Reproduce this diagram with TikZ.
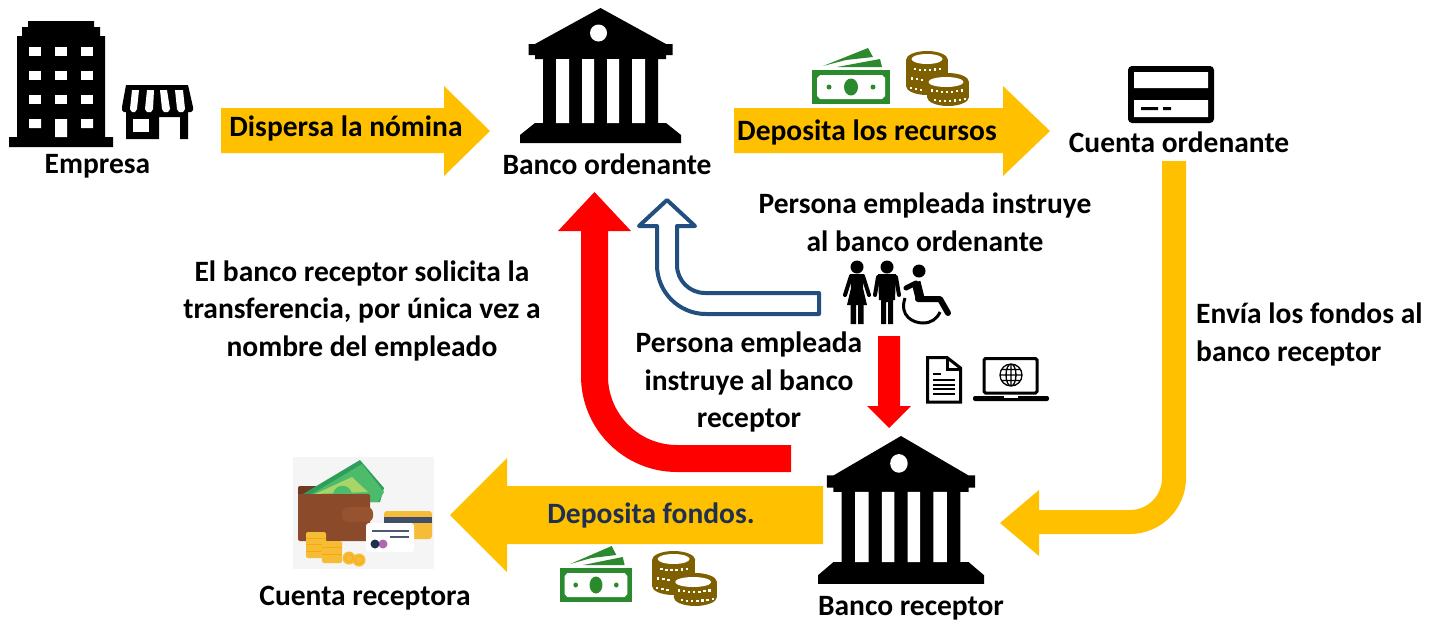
\documentclass[tikz,border=0pt]{standalone}
\usepackage{fontspec}
\setmainfont{Carlito}
\definecolor{gold}{HTML}{FFC000}
\definecolor{rojo}{HTML}{FF0000}
\definecolor{azul}{HTML}{224E80}
\definecolor{verde}{HTML}{2B8A2D}
\definecolor{moneda}{HTML}{7F6000}
\definecolor{tinta}{HTML}{1F2F4F}
\definecolor{cuero}{HTML}{8B4A2A}
\definecolor{cueroO}{HTML}{6E3A20}
\definecolor{cueroC}{HTML}{97532F}
\definecolor{oro}{HTML}{F5BC38}
\definecolor{billO}{HTML}{2E9E5B}
\definecolor{billM}{HTML}{4CBB6B}
\definecolor{billC}{HTML}{A8D468}
\newcommand\coinrow[4]{\foreach \xx in {#4}{\pgfmathsetmacro\yy{#3+3*(1-((\xx-#1)/#2)^2)}\fill[white] (\xx-1.2,\yy-1.1) rectangle (\xx+1.2,\yy+1.1);}}
\tikzset{
  lbl/.style={font=\fontsize{29.5}{37.5}\selectfont\bfseries,align=center,inner sep=0pt,text=black},
  goldblock/.style={fill=gold},
  redblock/.style={fill=rojo},
  blueblock/.style={draw=azul,line width=4pt,line join=round,fill=white},
  bankicon/.pic={
    \fill[black] (0,0) -- (65.5,36) -- (72,36) -- (72,47) -- (65.5,47) -- (65.5,51) -- (57.5,51) -- (57.5,115) -- (65.5,115) -- (80.5,127) -- (80.5,135) -- (-80.5,135) -- (-80.5,127) -- (-65.5,115) -- (-57.5,115) -- (-57.5,51) -- (-65.5,51) -- (-65.5,47) -- (-72,47) -- (-72,36) -- (-65.5,36) -- cycle;
    \fill[white] (-44.5,51) rectangle (-31.5,115) (-18.5,51) rectangle (-6.5,115) (6.5,51) rectangle (18.5,115) (31.5,51) rectangle (44.5,115);
    \fill[white] (-2,25) circle[radius=8.5];
  },
  moneyicon/.pic={
    \fill[verde] (0,22) rectangle (78,56);
    \fill[white] (8,27) -- (70,27) -- (73,30) -- (73,48) -- (70,51) -- (8,51) -- (5,48) -- (5,30) -- cycle;
    \fill[verde] (39,39) ellipse[x radius=7,y radius=8.5];
    \fill[verde] (17,39) circle[radius=2.5] (61,39) circle[radius=2.5];
    \fill[verde] (11,18) -- (56,0) -- (61,9) -- (34,12) -- cycle;
    \fill[verde] (25,19) -- (68,11) -- (70,19) -- cycle;
  },
  coinsicon/.pic={
    \fill[moneda] (21,9) ellipse[x radius=21,y radius=9];
    \fill[moneda] (0,9) rectangle (42,35);
    \fill[moneda] (21,35) ellipse[x radius=21,y radius=9];
    \fill[white] (21,8) ellipse[x radius=15.5,y radius=5];
    \coinrow{21}{21}{16}{9,14,19,24,29,34}
    \coinrow{21}{21}{26}{6,11,16}
    \coinrow{21}{21}{36}{5,10,15}
    \fill[moneda] (42,31) ellipse[x radius=21,y radius=9];
    \fill[moneda] (21,31) rectangle (63,46);
    \fill[moneda] (42,46) ellipse[x radius=21,y radius=9];
    \fill[white] (40,31) ellipse[x radius=17.5,y radius=5];
    \coinrow{41}{21}{38}{26,31,36,41,46,51,56}
    \coinrow{41}{21}{47}{29,34,39,44,49,54,59}
  },
}
\begin{document}
\begin{tikzpicture}[x=1pt,y=-1pt]
\useasboundingbox (0,0) rectangle (1441,622);

% Empresa: building
\fill[black] (28,21) -- (94,21) -- (94,27) -- (100,27) -- (100,36) -- (105,36) -- (105,137) -- (113,137) -- (113,147) -- (9,147) -- (9,137) -- (17,137) -- (17,36) -- (22,36) -- (22,27) -- (28,27) -- cycle;
\foreach \yy in {47,71,95}{\foreach \xx in {29,55,81}{\fill[white] (\xx,\yy) rectangle ++(12,9);}}
\fill[white] (29,119) rectangle (41,128) (55,119) rectangle (67,137) (81,119) rectangle (93,128);
% shop
\fill[black] (126,85) -- (188,85) -- (193,107) -- (193,110) -- (191,112) -- (188,112) -- (188,139) -- (180,139) -- (180,117) -- (159,117) -- (159,139) -- (126,139) -- (126,112) -- (124,112) -- (122,110) -- (122,107) -- cycle;
\fill[white] (133,119) rectangle (149,132);
\fill[white] (132,90) -- (139,90) -- (137,109) -- (135,112) -- (132,112) -- (130,109) -- cycle;
\fill[white] (147,90) -- (154,90) -- (153,109) -- (151,112) -- (147,112) -- (145,109) -- cycle;
\fill[white] (160,90) -- (167,90) -- (170,109) -- (168,112) -- (164,112) -- (162,109) -- cycle;
\fill[white] (175,90) -- (183,90) -- (185,109) -- (183,112) -- (179,112) -- (177,109) -- cycle;

% Banks
\pic (bancoA) at (600.5,8) {bankicon};
\pic[xscale=1.031,yscale=1.096] (bancoB) at (901,436) {bankicon};

% Money and coins
\pic (billeteA) at (812,48) {moneyicon};
\pic (monedaA) at (906,51) {coinsicon};
\pic[xscale=.923] (billeteB) at (560,546) {moneyicon};
\pic[xscale=1.03] (monedaB) at (652,551) {coinsicon};

% Card
\fill[black,rounded corners=4pt] (1128,66) rectangle (1214,123);
\fill[white] (1134,72) rectangle (1208,88) (1134,100) rectangle (1208,117);
\fill[black] (1141,107) rectangle (1158,110) (1163,107) rectangle (1171,110);

% Block arrows
\path[goldblock] (221,108) -- (444,108) -- (444,86) -- (490,131) -- (444,176) -- (444,153) -- (221,153) -- cycle;
\path[goldblock] (734,108) -- (1003,108) -- (1003,86) -- (1050,131) -- (1003,176) -- (1003,153) -- (734,153) -- cycle;
\path[goldblock] (823,486) -- (507,486) -- (507,458) -- (450,515) -- (507,572) -- (507,544) -- (823,544) -- cycle;
\path[goldblock] (1162,161) -- (1186,161) -- (1186,478) arc (0:90:56) -- (1039,534) -- (1039,556) -- (1000,523) -- (1039,490) -- (1039,510) -- (1130,510) arc (90:0:32) -- cycle;
\path[redblock] (791,445) -- (677,445) arc (90:180:69) -- (608,231) -- (631,231) -- (594.5,192) -- (558,231) -- (581,231) -- (581,376) arc (180:90:96) -- (791,472) -- cycle;
\path[redblock] (878,336) -- (900,336) -- (900,406) -- (911,406) -- (889,428) -- (867,406) -- (878,406) -- cycle;
\path[blueblock] (819,293) -- (705,293) arc (90:180:28) -- (677,226) -- (695,226) -- (667,200) -- (639,226) -- (657,226) -- (657,265) arc (180:90:49) -- (819,314) -- cycle;

% People
\fill[black] (857,267) circle[radius=6.5] (887,267) circle[radius=6.5] (919,271) circle[radius=6.5];
\fill[black] (850,274) -- (864,274) -- (863,288) -- (867,305) -- (847,305) -- (851,288) -- cycle;
\fill[black] (850.5,305) rectangle (856,324) (858,305) rectangle (863.5,324);
\draw[black,line width=4pt,line cap=round] (851,276) -- (845,295) (863,276) -- (869,295);
\fill[black] (878,274) -- (896,274) -- (895,300) -- (893,300) -- (893,324) -- (888,324) -- (888,302) -- (886,302) -- (886,324) -- (881,324) -- (881,300) -- (879,300) -- cycle;
\draw[black,line width=4pt,line cap=round] (878,277) -- (875,295) (896,277) -- (899,295);
\draw[black,line width=9pt,line join=round] (916,282) -- (920,298);
\draw[black,line width=5pt,line cap=round] (906,288) -- (916,283);
\draw[black,line width=6pt,line cap=round,line join=round] (918,299) -- (940,299) -- (948,313);
\draw[black,line width=3pt] (905,298) .. controls (899,316) and (913,323) .. (923,323) .. controls (931,323) and (937,319) .. (940,312);

% Document
\draw[black,line width=3pt,line join=miter] (927.5,357.5) -- (947,357.5) -- (960.5,368) -- (960.5,402) -- (927.5,402) -- cycle;
\draw[black,line width=3pt] (947,357) -- (947,369) -- (961,369);
\draw[black,line width=2pt] (933,374) -- (941,374) (933,380) -- (955,380) (933,384.5) -- (955,384.5) (933,389) -- (955,389) (933,393.5) -- (955,393.5);

% Laptop
\draw[black,line width=3pt,rounded corners=1.5pt] (984,358.5) rectangle (1037,393);
\fill[black,rounded corners=2pt] (973,396) rectangle (1049,401);
\fill[white] (1004,396) rectangle (1018,397.5);
\draw[black,line width=1.3pt] (1011,375) circle[radius=11] (1011,375) ellipse[x radius=5,y radius=11] (1011,364) -- (1011,386) (1000,375) -- (1022,375) (1002,369.5) -- (1020,369.5) (1002,380.5) -- (1020,380.5);

% Wallet picture
\fill[black!4] (293,457) rectangle (434,569);
\fill[cueroO,rounded corners=2pt] (298,486) -- (350,486) -- (350,496) -- (298,496) -- cycle;
\fill[billO] (303,494) -- (360,460) -- (384,488) -- (380,502) -- (368,502) -- cycle;
\fill[billM] (312,494) -- (362,464) -- (384,492) -- (378,502) -- (368,502) -- cycle;
\fill[billC] (315,494) -- (352,477) -- (368,492) -- cycle;
\fill[billM] (333,494) .. controls (335,483) and (350,483) .. (352,494) -- cycle;
\fill[cuero,rounded corners=2pt] (298,494) -- (370,494) -- (370,541) -- (298,541) -- cycle;
\fill[cueroC,rounded corners=6pt] (342,507) rectangle (373,522);
\fill[oro,rounded corners=3pt] (384,511) rectangle (432,539);
\fill[tinta!85!white] (384,517) rectangle (432,523);
\fill[white,rounded corners=3pt] (366,523) rectangle (414,552);
\draw[tinta!80!white,line width=1.2pt] (372,531) -- (409,531) (390,537) -- (409,537);
\fill[violet!60!white] (383,544) circle[radius=4.5];
\fill[tinta] (375,544) circle[radius=4.5];
\fill[oro,rounded corners=2pt] (306,532) rectangle (326,558) (322,541) rectangle (342,563);
\draw[orange!70!yellow,line width=.5pt] (306,538) -- (326,538) (306,544) -- (322,544) (306,551) -- (322,551) (322,547) -- (342,547) (322,554) -- (342,554);
\fill[oro] (349,558) circle[radius=6.5] (359,560) circle[radius=6.5];
\draw[orange!70!yellow,line width=.6pt] (349,558) circle[radius=4] (359,560) circle[radius=4];

% Labels
\node[lbl] (empresa) at (97.5,166) {Empresa};
\node[lbl] (dispersa) at (346,128) {Dispersa la nómina};
\node[lbl] (bancoOrd) at (607,164.5) {Banco ordenante};
\node[lbl] (deposita) at (867,132) {Deposita los recursos};
\node[lbl] (cuentaOrd) at (1179,142.5) {Cuenta ordenante};
\node[lbl] (instruyeOrd) at (925,222.5) {Persona empleada instruye\\al banco ordenante};
\node[lbl] (solicita) at (362,310.5) {El banco receptor solicita la\\transferencia, por única vez a\\nombre del empleado};
\node[lbl] (instruyeRec) at (749,382) {Persona empleada\\instruye al banco\\receptor};
\node[lbl,align=left,anchor=west] (envia) at (1196,334.5) {Envía los fondos al\\banco receptor};
\node[lbl,text=tinta] (fondos) at (651,515) {Deposita fondos.};
\node[lbl] (cuentaRec) at (365,598) {Cuenta receptora};
\node[lbl] (bancoRec) at (911,608) {Banco receptor};
\end{tikzpicture}
\end{document}
